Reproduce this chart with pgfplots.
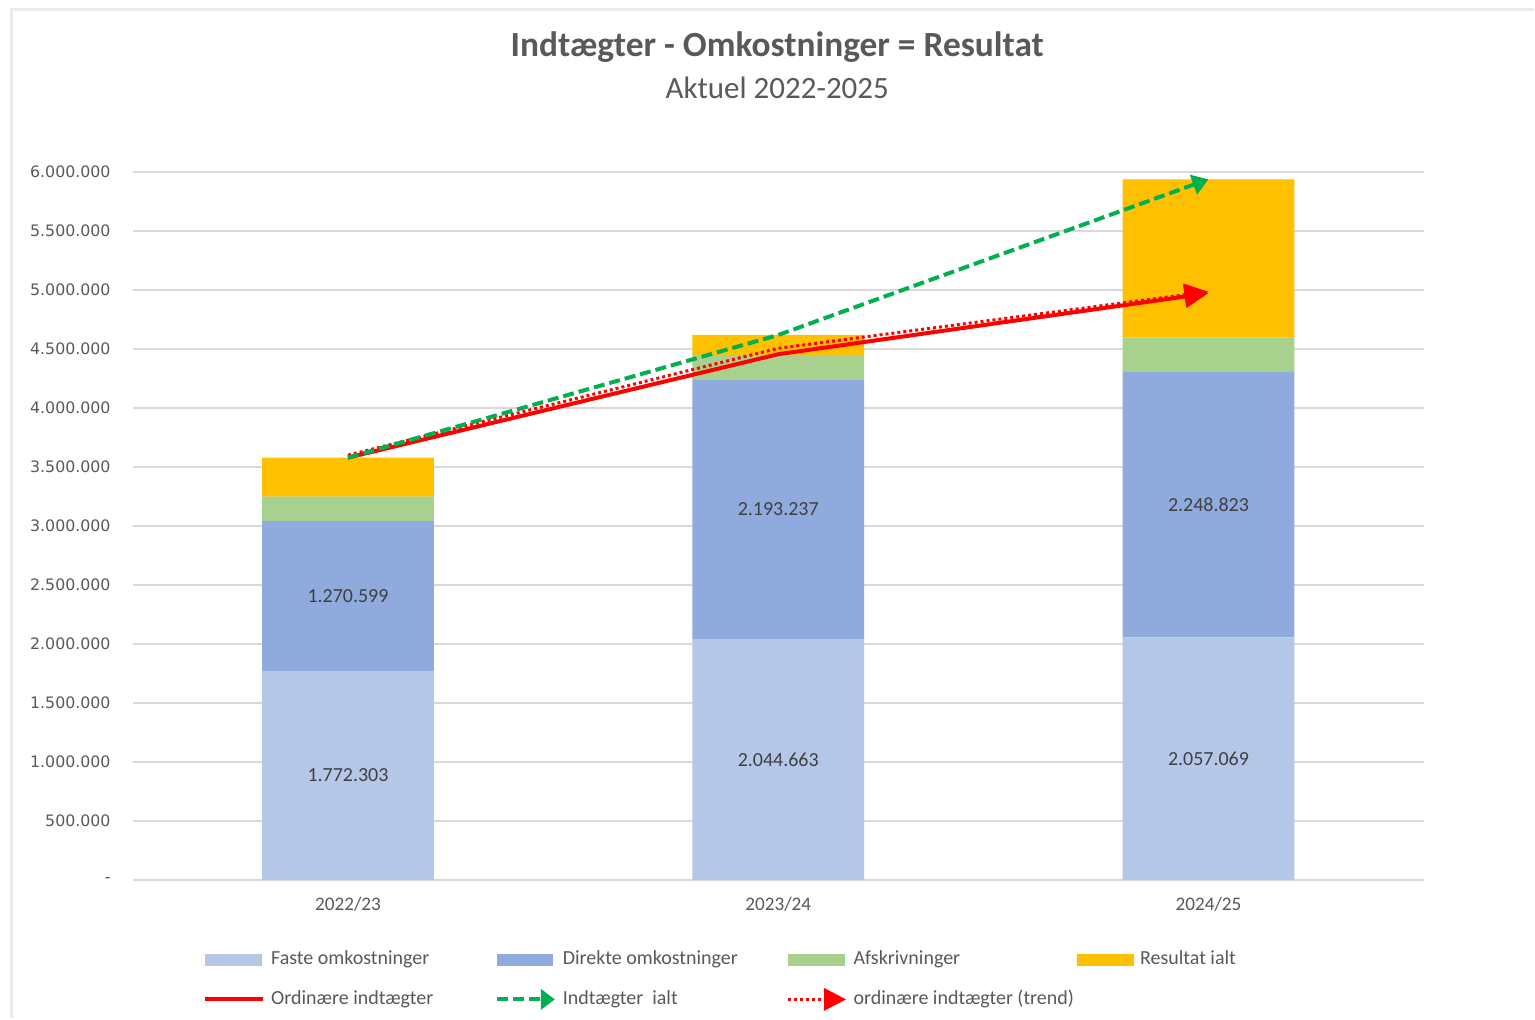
\documentclass[border=0pt]{standalone}
\usepackage{pgfplots}
\pgfplotsset{compat=1.18}
\usepackage{fontspec}
\setmainfont{Carlito}
\newfontfamily\tickfont{DejaVu Sans}
\usetikzlibrary{arrows.meta}
\definecolor{faste}{HTML}{B4C7E7}
\definecolor{direkte}{HTML}{8FAADC}
\definecolor{afskriv}{HTML}{A9D18E}
\definecolor{resultat}{HTML}{FFC000}
\definecolor{xred}{HTML}{FF0000}
\definecolor{xgreen}{HTML}{00B050}
\definecolor{txt}{HTML}{595959}
\definecolor{lbl}{HTML}{404040}
\definecolor{gridc}{HTML}{D9D9D9}
\definecolor{framec}{HTML}{EBEBEB}
\begin{document}
\begin{tikzpicture}[x=0.5pt,y=0.5pt]
\fill[white] (0,0) rectangle (1535,1019);
\draw[framec, line width=1.5pt] (12,0) -- (12,1009) -- (1535,1009);
\node[font=\bfseries\fontsize{17.7}{21}\selectfont, text=txt] at (778,972) {Indtægter - Omkostninger = Resultat};
\node[font=\fontsize{15.5}{18}\selectfont, text=txt] at (778,931) {Aktuel 2022-2025};

\begin{axis}[
  at={(66.5pt,69pt)}, anchor=south west,
  scale only axis, width=646pt, height=354.5pt,
  xmin=-0.5, xmax=2.5, ymin=0, ymax=6000000,
  ybar stacked, bar width=86pt,
  axis line style={draw=none}, tick style={draw=none},
  ymajorgrids, grid style={gridc, line width=0.8pt},
  xtick={0,1,2}, xticklabels={2022/23,2023/24,2024/25},
  xticklabel style={font=\fontsize{9.6}{11}\selectfont, text=txt, inner sep=0pt, yshift=-8.5pt},
  ytick={0,500000,1000000,1500000,2000000,2500000,3000000,3500000,4000000,4500000,5000000,5500000,6000000},
  yticklabels={-\hspace{5.5pt},500.000,1.000.000,1.500.000,2.000.000,2.500.000,3.000.000,3.500.000,4.000.000,4.500.000,5.000.000,5.500.000,6.000.000},
  yticklabel style={font=\tickfont\fontsize{7.9}{9}\selectfont, text=txt, inner sep=0pt, xshift=-11pt},
  scaled y ticks=false,
]
\addplot[fill=faste, draw=none] coordinates {(0,1772303) (1,2044663) (2,2057069)};
\addplot[fill=direkte, draw=none] coordinates {(0,1270599) (1,2193237) (2,2248823)};
\addplot[fill=afskriv, draw=none] coordinates {(0,206000) (1,211000) (2,292000)};
\addplot[fill=resultat, draw=none] coordinates {(0,330000) (1,169000) (2,1339000)};
\end{axis}

\begin{axis}[
  at={(66.5pt,69pt)}, anchor=south west,
  scale only axis, width=646pt, height=354.5pt,
  xmin=-0.5, xmax=2.5, ymin=0, ymax=6000000,
  axis lines=none, clip=false,
  legend columns=4,
  legend cell align=left,
  legend style={at={(0.0542,-0.0987)}, anchor=north west, draw=none, fill=none,
    inner sep=0pt, font=\fontsize{10}{12}\selectfont, text=txt, row sep=10pt,
    nodes={inner sep=0pt, text height=7pt, text depth=2pt},
    /tikz/every odd column/.append style={column sep=3pt}},
]
\addlegendimage{legend image code/.code={\fill[faste] (0pt,-2.75pt) rectangle (28pt,2.75pt);}}
\addlegendentry{\makebox[112pt][l]{Faste omkostninger}}
\addlegendimage{legend image code/.code={\fill[direkte] (0pt,-2.75pt) rectangle (28pt,2.75pt);}}
\addlegendentry{\makebox[112pt][l]{Direkte omkostninger}}
\addlegendimage{legend image code/.code={\fill[afskriv] (0pt,-2.75pt) rectangle (28pt,2.75pt);}}
\addlegendentry{\makebox[112pt][l]{Afskrivninger}}
\addlegendimage{legend image code/.code={\fill[resultat] (0pt,-2.75pt) rectangle (28pt,2.75pt);}}
\addlegendentry{\makebox[112pt][l]{Resultat ialt}}

\addplot[draw=none, forget plot, nodes near coords, point meta=explicit symbolic,
  nodes near coords style={font=\fontsize{10}{12}\selectfont, text=lbl, anchor=center, inner sep=0pt}]
  table[meta=lab, row sep=\\] {
  x y lab \\
  0 886151 1.772.303 \\
  0 2407602 1.270.599 \\
  1 1022331 2.044.663 \\
  1 3141281 2.193.237 \\
  2 1028534 2.057.069 \\
  2 3181480 2.248.823 \\
};

\addplot[xred, line width=1.5pt, dash pattern=on 1.5pt off 1.5pt, -{Triangle[length=12pt,width=11pt]}, forget plot]
  coordinates {(0,3600000) (1,4505000) (2,4985000)};
\addplot[xred, line width=2pt, line join=round, -{Triangle[length=12pt,width=11pt]},
  legend image code/.code={\draw[xred, line width=2pt, -] (0pt,0pt) -- (29pt,0pt);}]
  coordinates {(0,3578902) (1,4455000) (2,4972000)};
\addlegendentry{\makebox[112pt][l]{Ordinære indtægter}}
\addplot[xgreen, line width=2pt, dash pattern=on 5.5pt off 2.5pt, -{Triangle[length=8pt,width=10pt]},
  legend image code/.code={\draw[xgreen, line width=2pt, dash pattern=on 5.5pt off 2.5pt, -{Triangle[length=7pt,width=10pt]}] (0pt,0pt) -- (29pt,0pt);}]
  coordinates {(0,3578902) (1,4617900) (2,5936892)};
\addlegendentry{\makebox[112pt][l]{Indtægter\ \ ialt}}
\addlegendimage{legend image code/.code={\draw[xred, line width=1.5pt, dash pattern=on 1.5pt off 1.5pt, -{Triangle[length=11pt,width=11pt]}] (0pt,0pt) -- (29pt,0pt);}}
\addlegendentry{\makebox[112pt][l]{ordinære indtægter (trend)}}
\end{axis}
\end{tikzpicture}
\end{document}
